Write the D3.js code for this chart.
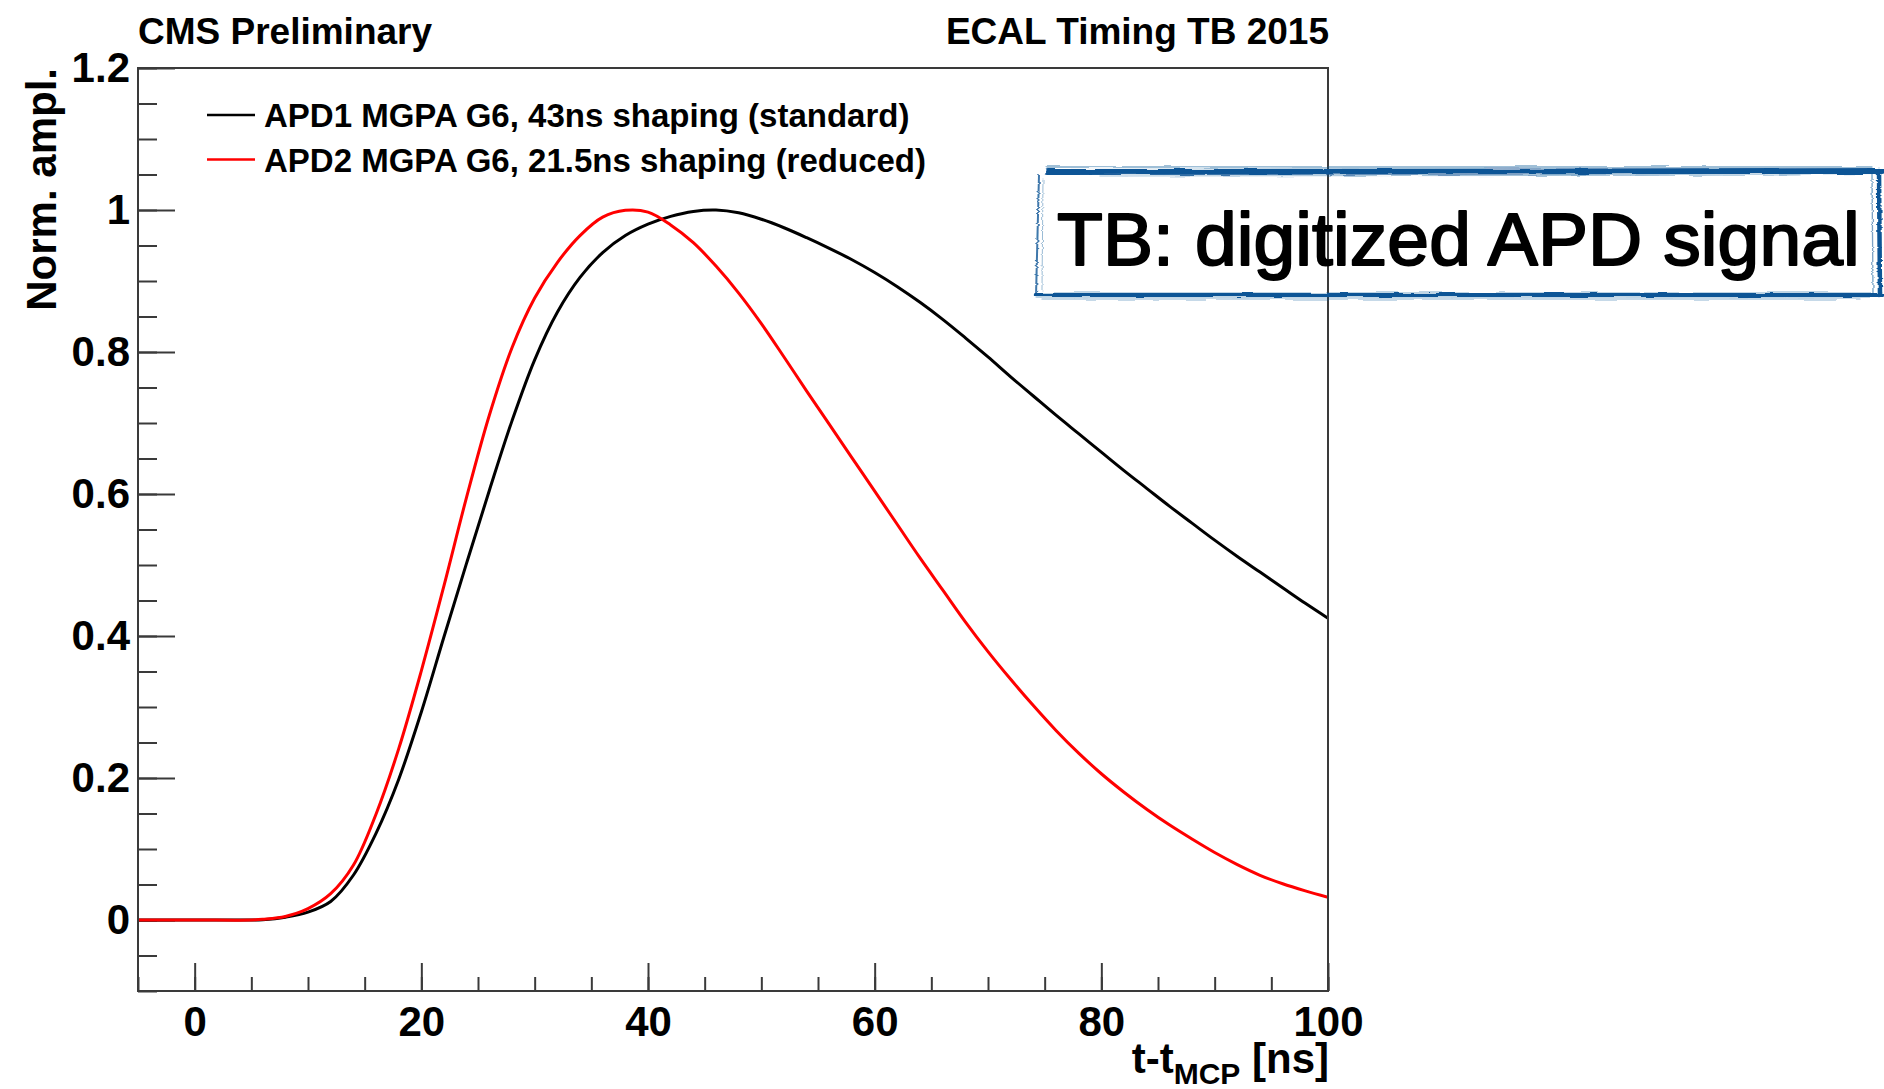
<!DOCTYPE html>
<html>
<head>
<meta charset="utf-8">
<script src="https://cdn.jsdelivr.net/npm/d3@7"></script>
<style>
  html, body { margin: 0; padding: 0; background: #fff; }
  svg { display: block; }
  text { font-family: "Liberation Sans", Arial, Helvetica, sans-serif; }
</style>
</head>
<body>
<svg id="chart" width="1884" height="1089"></svg>
<script>
// Pulse shapes: normalised amplitude vs time relative to the MCP reference [ns]
const timeNs = [-5, 0, 5, 6, 8, 10, 12, 14, 16, 18, 20, 22, 24, 26, 28, 30, 32, 34, 36, 38,
  40, 42, 44, 46, 48, 50, 52, 54, 56, 58, 60, 62, 64, 66, 68, 70, 72, 74, 76, 78,
  80, 82, 84, 86, 88, 90, 92, 94, 96, 98, 100];

const apd1Standard = [0, 0, 0, 0.0005, 0.004, 0.011, 0.026, 0.063, 0.122, 0.198, 0.293, 0.399, 0.503, 0.605, 0.703, 0.789, 0.856, 0.905, 0.940, 0.964,
  0.980, 0.991, 0.998, 1.0, 0.996, 0.987, 0.975, 0.961, 0.946, 0.930, 0.912, 0.892, 0.870, 0.846, 0.820, 0.793, 0.765, 0.738, 0.711, 0.685,
  0.659, 0.633, 0.608, 0.583, 0.559, 0.535, 0.512, 0.490, 0.468, 0.446, 0.425];

const apd2Reduced = [0, 0, 0, 0.001, 0.005, 0.016, 0.037, 0.077, 0.149, 0.241, 0.351, 0.471, 0.596, 0.711, 0.806, 0.876, 0.926, 0.964, 0.990, 0.9995,
  0.997, 0.979, 0.954, 0.921, 0.883, 0.840, 0.793, 0.745, 0.698, 0.651, 0.604, 0.557, 0.510, 0.465, 0.420, 0.378, 0.339, 0.302, 0.267, 0.235,
  0.206, 0.180, 0.156, 0.134, 0.114, 0.095, 0.078, 0.063, 0.051, 0.041, 0.032];

const seriesNames = ["APD1 MGPA G6, 43ns shaping (standard)", "APD2 MGPA G6, 21.5ns shaping (reduced)"];
const seriesColors = ["#000000", "#ff0000"];

const xMajorTicks = [0, 20, 40, 60, 80, 100];
const xTickLabels = ["0", "20", "40", "60", "80", "100"];
const xMinorTicks = d3.range(-5, 100.01, 5);
const yMajorTicks = [0, 0.2, 0.4, 0.6, 0.8, 1, 1.2];
const yTickLabels = ["0", "0.2", "0.4", "0.6", "0.8", "1", "1.2"];
const yMinorTicks = d3.range(-0.1, 1.2001, 0.05);

const svg = d3.select("#chart");
const frame = { left: 138, right: 1328, top: 68, bottom: 991 };

const x = d3.scaleLinear().domain([-5, 100]).range([frame.left, frame.right]);
const y = d3.scaleLinear().domain([-0.1, 1.2]).range([frame.bottom, frame.top]);

const axisColor = "#3a3a3a";
const defs = svg.append("defs");

// clip region for the curves
defs.append("clipPath").attr("id", "plotClip")
  .append("rect")
  .attr("x", frame.left).attr("y", frame.top)
  .attr("width", frame.right - frame.left).attr("height", frame.bottom - frame.top);

// ---- axes (ticks point inward) ----
function styleAxis(g) {
  g.select(".domain").remove();
  g.selectAll(".tick line").attr("stroke", axisColor).attr("stroke-width", 2);
}
function styleLabels(g) {
  g.selectAll("text")
    .attr("fill", "#000").attr("font-size", 42).attr("font-weight", "bold")
    .style("font-family", '"Liberation Sans", Arial, sans-serif');
}

svg.append("g")
  .attr("transform", `translate(0,${frame.bottom})`)
  .call(d3.axisBottom(x).tickValues(xMinorTicks).tickSize(-14).tickFormat(""))
  .call(styleAxis);

svg.append("g")
  .attr("transform", `translate(0,${frame.bottom})`)
  .call(d3.axisBottom(x).tickValues(xMajorTicks).tickSize(-28).tickPadding(15)
    .tickFormat((d, i) => xTickLabels[i]))
  .call(styleAxis)
  .call(styleLabels);

svg.append("g")
  .attr("transform", `translate(${frame.left},0)`)
  .call(d3.axisLeft(y).tickValues(yMinorTicks).tickSize(-19).tickFormat(""))
  .call(styleAxis);

svg.append("g")
  .attr("transform", `translate(${frame.left},0)`)
  .call(d3.axisLeft(y).tickValues(yMajorTicks).tickSize(-37).tickPadding(8)
    .tickFormat((d, i) => yTickLabels[i]))
  .call(styleAxis)
  .call(styleLabels);

// ---- curves ----
const line = d3.line()
  .x((d, i) => x(timeNs[i]))
  .y(d => y(d))
  .curve(d3.curveCatmullRom.alpha(0.5));

const curves = svg.append("g").attr("clip-path", "url(#plotClip)");
[apd1Standard, apd2Reduced].forEach((vals, k) => {
  curves.append("path")
    .datum(vals)
    .attr("d", line)
    .attr("fill", "none")
    .attr("stroke", seriesColors[k])
    .attr("stroke-width", 3)
    .attr("stroke-linejoin", "round");
});

// ---- frame ----
svg.append("rect")
  .attr("x", frame.left).attr("y", frame.top)
  .attr("width", frame.right - frame.left).attr("height", frame.bottom - frame.top)
  .attr("fill", "none").attr("stroke", axisColor).attr("stroke-width", 2);

// ---- legend ----
const legend = svg.append("g");
seriesNames.forEach((name, k) => {
  const ly = 115 + k * 44.5;
  legend.append("line")
    .attr("x1", 207).attr("x2", 255).attr("y1", ly).attr("y2", ly)
    .attr("stroke", seriesColors[k]).attr("stroke-width", 2.5);
  legend.append("text")
    .attr("x", 264).attr("y", ly + 12)
    .attr("font-size", 33).attr("font-weight", "bold").attr("fill", "#000")
    .text(name);
});

// ---- header texts ----
svg.append("text")
  .attr("x", frame.left).attr("y", 44)
  .attr("font-size", 37).attr("font-weight", "bold")
  .text("CMS Preliminary");
svg.append("text")
  .attr("x", frame.right + 1).attr("y", 44)
  .attr("text-anchor", "end")
  .attr("font-size", 37).attr("font-weight", "bold")
  .text("ECAL Timing TB 2015");

// ---- axis titles ----
svg.append("text")
  .attr("transform", `translate(56,${frame.top}) rotate(-90)`)
  .attr("text-anchor", "end")
  .attr("font-size", 42).attr("font-weight", "bold")
  .text("Norm. ampl.");

const xTitle = svg.append("text")
  .attr("x", frame.right + 1).attr("y", 1073)
  .attr("text-anchor", "end")
  .attr("font-size", 42).attr("font-weight", "bold");
xTitle.append("tspan").text("t-t");
xTitle.append("tspan").attr("font-size", 30).attr("dy", 11).text("MCP");
xTitle.append("tspan").attr("dy", -11).text(" [ns]");

// ---- annotation box with brush-stroke border ----
const rough = defs.append("filter").attr("id", "rough")
  .attr("x", "-2%").attr("y", "-30%").attr("width", "104%").attr("height", "160%");
rough.append("feTurbulence")
  .attr("type", "fractalNoise").attr("baseFrequency", "0.03 0.45")
  .attr("numOctaves", 2).attr("seed", 5).attr("result", "noise");
rough.append("feDisplacementMap")
  .attr("in", "SourceGraphic").attr("in2", "noise").attr("scale", 3.5)
  .attr("xChannelSelector", "R").attr("yChannelSelector", "G");

const brushColor = "#0f5596";
const brush = svg.append("g").attr("filter", "url(#rough)")
  .attr("fill", "none").attr("stroke", brushColor).attr("stroke-linecap", "round");
const strokes = [
  ["M1048,172 L1882,171", 6, 1],
  ["M1046,167 L1872,167", 1.3, 0.5],
  ["M1100,176 L1800,175", 1.2, 0.35],
  ["M1036,295 L1882,295", 4.5, 1],
  ["M1042,299 L1860,299", 1.1, 0.45],
  ["M1039,175 L1036,296", 2, 0.8],
  ["M1043,180 L1042,290", 1, 0.4],
  ["M1879,170 L1880,296", 4.5, 1],
  ["M1872,174 L1873,292", 1.3, 0.55]
];
strokes.forEach(([d, w, o]) => {
  brush.append("path").attr("d", d).attr("stroke-width", w).attr("stroke-opacity", o);
});

svg.append("text")
  .attr("x", 1057).attr("y", 265)
  .attr("font-size", 75).attr("fill", "#000")
  .attr("stroke", "#000").attr("stroke-width", 2).attr("stroke-linejoin", "round")
  .attr("letter-spacing", 0.1)
  .text("TB: digitized APD signal");
</script>
</body>
</html>
